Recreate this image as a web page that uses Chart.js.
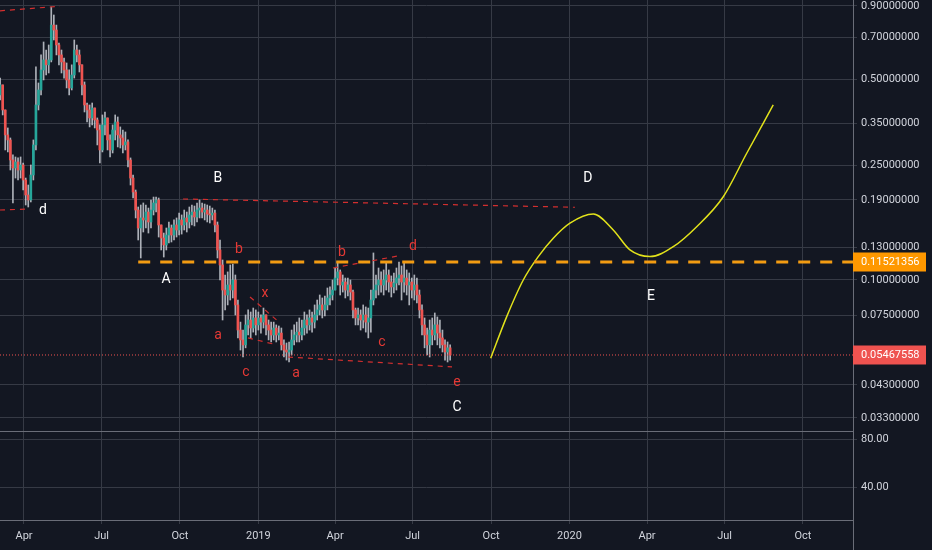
<!DOCTYPE html>
<html>
<head>
<meta charset="utf-8">
<script src="https://cdn.jsdelivr.net/npm/chart.js@4.4.1/dist/chart.umd.min.js"></script>
<style>
  html, body { margin: 0; padding: 0; background: #131722; }
  #wrap { position: relative; width: 932px; height: 550px; overflow: hidden; background: #131722; }
  #top { position: absolute; left: 0; top: 0; width: 932px; height: 433px; }
  #bot { position: absolute; left: 0; top: 432px; width: 932px; height: 118px; }
</style>
</head>
<body>
<div id="wrap">
  <div id="top"><canvas id="main-chart"></canvas></div>
  <div id="bot"><canvas id="osc-chart"></canvas></div>
</div>
<script>
//#region Datos
// days are counted from 1 Jan 2018, one candle every 3 days
var firstBarDay = 62;
var barStepDays = 3;
var firstOpen = 0.4406;

var closes = [
  0.4775, 0.3906, 0.3197, 0.3071, 0.2615, 0.2452, 0.2573, 0.2413, 0.2512, 0.2227,
  0.1974, 0.1897, 0.2318, 0.295, 0.4066, 0.4586, 0.5385, 0.5835, 0.561, 0.5835,
  0.772, 0.742, 0.658, 0.6075, 0.5742, 0.5385, 0.497, 0.466, 0.517, 0.632,
  0.6075, 0.561, 0.4775, 0.4066, 0.3906, 0.3663, 0.3968, 0.3605, 0.3327, 0.2834,
  0.3464, 0.3663, 0.3071, 0.2834, 0.3327, 0.3547, 0.3197, 0.312, 0.295, 0.3022,
  0.2615, 0.2262, 0.2022, 0.175, 0.1515, 0.1642, 0.1616, 0.1722, 0.159, 0.175,
  0.1852, 0.1897, 0.1552, 0.1398, 0.1322, 0.1432, 0.1515, 0.1432, 0.1552, 0.1491,
  0.1616, 0.1552, 0.1642, 0.159, 0.1682, 0.1722, 0.1655, 0.175, 0.1778, 0.1722,
  0.175, 0.1694, 0.1682, 0.1708, 0.1552, 0.127, 0.1126, 0.0921, 0.0885, 0.0959,
  0.0921, 0.0998, 0.0817, 0.0668, 0.0617, 0.0593, 0.0696, 0.0724, 0.0679, 0.0736,
  0.0696, 0.0736, 0.0712, 0.0754, 0.0696, 0.0668, 0.0642, 0.0679, 0.0642, 0.0652,
  0.0593, 0.0569, 0.056, 0.0569, 0.0617, 0.0642, 0.0657, 0.0642, 0.0679, 0.0724,
  0.0696, 0.0736, 0.0712, 0.0754, 0.0785, 0.0817, 0.0785, 0.0817, 0.0864, 0.0885,
  0.0921, 0.1014, 0.1065, 0.0959, 0.0982, 0.0921, 0.0959, 0.0906, 0.0785, 0.0736,
  0.0754, 0.0724, 0.0754, 0.0712, 0.0736, 0.085, 0.0921, 0.0959, 0.0998, 0.0959,
  0.0998, 0.1039, 0.0982, 0.0944, 0.0974, 0.1014, 0.1039, 0.0982, 0.1014, 0.0959,
  0.0982, 0.0921, 0.0959, 0.0885, 0.0785, 0.0696, 0.0642, 0.0593, 0.0668, 0.0642,
  0.0696, 0.0652, 0.0627, 0.0593, 0.056, 0.0579, 0.05467558
];
var highs = [
  0.505, 0.4586, 0.3906, 0.3381, 0.312, 0.2723, 0.2679, 0.2658, 0.2679, 0.2552,
  0.2262, 0.2139, 0.2512, 0.3071, 0.552, 0.4851, 0.6075, 0.674, 0.632, 0.658,
  0.8925, 0.837, 0.772, 0.6686, 0.632, 0.5929, 0.5695, 0.5385, 0.561, 0.685,
  0.658, 0.632, 0.561, 0.489, 0.413, 0.4066, 0.413, 0.3906, 0.3663, 0.3464,
  0.3753, 0.3844, 0.3605, 0.3197, 0.3464, 0.3753, 0.3693, 0.3409, 0.3327, 0.3274,
  0.3071, 0.2658, 0.2318, 0.2055, 0.1793, 0.1822, 0.1852, 0.1822, 0.1778, 0.1897,
  0.1942, 0.1942, 0.1927, 0.1552, 0.1455, 0.1515, 0.159, 0.1552, 0.1616, 0.1642,
  0.1708, 0.1682, 0.175, 0.1722, 0.1793, 0.1822, 0.1807, 0.1852, 0.1897, 0.1852,
  0.1836, 0.1822, 0.1807, 0.1778, 0.175, 0.159, 0.1376, 0.1172, 0.1039, 0.1065,
  0.1126, 0.1134, 0.1039, 0.085, 0.0712, 0.0668, 0.0754, 0.0785, 0.0772, 0.0797,
  0.0785, 0.0772, 0.0754, 0.0797, 0.0754, 0.0724, 0.0712, 0.0712, 0.0696, 0.069,
  0.0679, 0.0617, 0.0602, 0.0607, 0.0668, 0.0696, 0.0712, 0.0736, 0.0724, 0.0772,
  0.0754, 0.0785, 0.0772, 0.0817, 0.085, 0.0885, 0.0864, 0.0878, 0.0936, 0.0944,
  0.0998, 0.1099, 0.1144, 0.1082, 0.1039, 0.1014, 0.1014, 0.0998, 0.0921, 0.0797,
  0.0797, 0.0785, 0.0817, 0.0804, 0.0797, 0.0921, 0.124, 0.1039, 0.1099, 0.1065,
  0.1082, 0.1153, 0.1082, 0.1031, 0.1056, 0.1099, 0.1153, 0.1117, 0.1153, 0.1082,
  0.1056, 0.1014, 0.1039, 0.1014, 0.0921, 0.0817, 0.0736, 0.0679, 0.0724, 0.0736,
  0.0766, 0.0742, 0.0724, 0.0668, 0.0617, 0.0607, 0.0593
];
var lows = [
  0.4232, 0.3753, 0.2834, 0.2789, 0.2413, 0.1852, 0.2262, 0.2227, 0.2262, 0.2055,
  0.1822, 0.1793, 0.1867, 0.2227, 0.2834, 0.3906, 0.4406, 0.497, 0.517, 0.5256,
  0.5742, 0.685, 0.6075, 0.561, 0.5256, 0.5046, 0.466, 0.4406, 0.4586, 0.5046,
  0.5742, 0.5299, 0.4406, 0.3844, 0.3547, 0.3409, 0.3464, 0.3381, 0.295, 0.2552,
  0.2789, 0.3197, 0.2834, 0.2679, 0.2766, 0.3071, 0.2903, 0.2879, 0.2766, 0.2834,
  0.2472, 0.2139, 0.1927, 0.1642, 0.1376, 0.1191, 0.1467, 0.1515, 0.1455, 0.1515,
  0.1682, 0.1722, 0.1409, 0.127, 0.12, 0.127, 0.1343, 0.1354, 0.1376, 0.1409,
  0.1432, 0.1443, 0.1491, 0.1467, 0.1515, 0.1552, 0.154, 0.159, 0.1642, 0.1642,
  0.1616, 0.159, 0.1577, 0.1616, 0.1467, 0.1191, 0.0998, 0.0724, 0.0785, 0.0817,
  0.085, 0.0864, 0.0754, 0.0627, 0.0569, 0.0538, 0.0579, 0.0642, 0.0627, 0.0657,
  0.0642, 0.0668, 0.0652, 0.0679, 0.0642, 0.0617, 0.0607, 0.0617, 0.0607, 0.0617,
  0.0569, 0.0538, 0.0525, 0.0517, 0.0547, 0.0593, 0.0607, 0.0607, 0.0617, 0.0642,
  0.0652, 0.0668, 0.0657, 0.0679, 0.0724, 0.0754, 0.0736, 0.0748, 0.0785, 0.0817,
  0.085, 0.0921, 0.0959, 0.0885, 0.0906, 0.0864, 0.0878, 0.085, 0.0736, 0.0696,
  0.0696, 0.0668, 0.0679, 0.0657, 0.0627, 0.0657, 0.0817, 0.0864, 0.0885, 0.0906,
  0.0885, 0.0921, 0.0906, 0.0871, 0.0899, 0.0921, 0.0959, 0.085, 0.0906, 0.0885,
  0.0817, 0.0864, 0.085, 0.083, 0.0736, 0.0642, 0.0579, 0.0547, 0.0538, 0.0593,
  0.0617, 0.0593, 0.0579, 0.056, 0.0525, 0.0517, 0.0525
];

var priceTicks = [0.9, 0.7, 0.5, 0.35, 0.25, 0.19, 0.13, 0.1, 0.075, 0.043, 0.033];
var oscTicks = [80, 40];
var monthTickDays = [90, 181, 273, 365, 455, 546, 638, 730, 821, 912, 1004];
var monthTickLabels = ['Apr', 'Jul', 'Oct', '2019', 'Apr', 'Jul', 'Oct', '2020', 'Apr', 'Jul', 'Oct'];

var lastPrice = 0.05467558;
var levelPrice = 0.11521356;
var levelStartDay = 224;

// projected path (yellow)
var projDays = [637.6, 656.4, 675.8, 693.4, 711.0, 730.6, 758.0, 781.4, 801.0, 824.5, 851.8, 879.3, 910.5, 938.0, 969.1];
var projPrices = [0.0533, 0.0744, 0.0998, 0.1204, 0.1395, 0.1574, 0.1694, 0.1491, 0.127, 0.1204, 0.1304, 0.1531, 0.1947, 0.276, 0.4066];

// red dashed trend lines: [day1, price1, day2, price2]
var trendLines = [
  [61.8, 0.8655, 132.2, 0.898],
  [61.8, 0.175, 94.7, 0.1764],
  [276.6, 0.1912, 736.5, 0.1789],
  [355.2, 0.0871, 390.4, 0.0707],
  [352.8, 0.0627, 386.8, 0.0593],
  [399.7, 0.0538, 592.2, 0.0497],
  [452.5, 0.1099, 528.8, 0.121]
];

var waveText = ['d', 'B', 'A', 'C', 'D', 'E', 'b', 'x', 'a', 'c', 'a', 'b', 'c', 'd', 'e'];
var waveDays = [112.3, 317.6, 256.6, 598.0, 751.7, 825.6, 342.3, 372.8, 317.6, 350.5, 409.1, 463.1, 510.0, 546.4, 598.0];
var wavePrices = [0.175, 0.2245, 0.1006, 0.036, 0.2245, 0.0871, 0.127, 0.0899, 0.0637, 0.0477, 0.0473, 0.124, 0.0602, 0.1301, 0.0437];
var waveIsMain = [true, true, true, true, true, true, false, false, false, false, false, false, false, false, false];
//#endregion

//#region Grafico
var xMin = 61.84, xMax = 1062.7;
var yMin = 0.02971, yMax = 0.944;
var gridColor = '#363a45';
var borderColor = '#6a6d78';
var textColor = '#d1d4dc';
Chart.defaults.font.family = 'Roboto';

var wickData = [], bodyData = [], bodyColors = [];
var prevClose = firstOpen;
for (var i = 0; i < closes.length; i++) {
    var day = firstBarDay + i * barStepDays;
    var o = prevClose, c = closes[i];
    wickData.push({ x: day, y: [Math.min(lows[i], o, c), Math.max(highs[i], o, c)] });
    bodyData.push({ x: day, y: [o, c] });
    bodyColors.push(c >= o ? '#26a69a' : '#ef5350');
    prevClose = c;
}

var datasets = [];
datasets.push({
    type: 'bar', data: wickData, backgroundColor: 'rgba(200,203,210,0.85)',
    barThickness: 1, grouped: false, borderWidth: 0, order: 3
});
datasets.push({
    type: 'bar', data: bodyData, backgroundColor: bodyColors,
    barThickness: 2, grouped: false, borderWidth: 0, minBarLength: 1, order: 2
});
trendLines.forEach(function (seg) {
    datasets.push({
        type: 'line', data: [{ x: seg[0], y: seg[1] }, { x: seg[2], y: seg[3] }],
        borderColor: '#d32f2f', borderWidth: 1.2, borderDash: [5, 5],
        pointRadius: 0, fill: false, order: 1
    });
});
datasets.push({
    type: 'line', data: [{ x: xMin, y: lastPrice }, { x: xMax, y: lastPrice }],
    borderColor: '#ef5350', borderWidth: 1, borderDash: [1, 2], pointRadius: 0, fill: false, order: 1
});
datasets.push({
    type: 'line', data: [{ x: levelStartDay, y: levelPrice }, { x: xMax, y: levelPrice }],
    borderColor: '#f39c12', borderWidth: 3, borderDash: [12, 10], pointRadius: 0, fill: false, order: 0
});
datasets.push({
    type: 'line', data: projDays.map(function (d, k) { return { x: d, y: projPrices[k] }; }),
    borderColor: '#e2e21b', borderWidth: 1.5, cubicInterpolationMode: 'monotone',
    pointRadius: 0, fill: false, order: 0
});

function drawTag(ctx, ys, price, color) {
    var yy = Math.round(ys.getPixelForValue(price));
    ctx.fillStyle = color;
    ctx.fillRect(ys.left, yy - 9.5, 73, 19);
    ctx.fillStyle = '#ffffff';
    ctx.font = '11px Roboto';
    ctx.textAlign = 'left';
    ctx.textBaseline = 'middle';
    ctx.fillText(price.toFixed(8), ys.left + 8, yy + 0.5);
}

var overlayPlugin = {
    id: 'overlay',
    afterDraw: function (chart) {
        var ctx = chart.ctx, xs = chart.scales.x, ys = chart.scales.y;
        ctx.save();
        ctx.font = '14px Roboto';
        ctx.textAlign = 'center';
        ctx.textBaseline = 'middle';
        for (var k = 0; k < waveText.length; k++) {
            ctx.fillStyle = waveIsMain[k] ? '#ffffff' : '#e53935';
            ctx.fillText(waveText[k], xs.getPixelForValue(waveDays[k]), ys.getPixelForValue(wavePrices[k]));
        }
        drawTag(ctx, ys, levelPrice, '#ff9800');
        drawTag(ctx, ys, lastPrice, '#ef5350');
        ctx.restore();
    }
};

var mainChart = new Chart(document.getElementById('main-chart'), {
    type: 'bar',
    data: { datasets: datasets },
    options: {
        responsive: true, maintainAspectRatio: false, animation: false, events: [],
        layout: { padding: { left: 0, right: 0, top: 0, bottom: 2 } },
        plugins: { legend: { display: false }, tooltip: { enabled: false } },
        scales: {
            x: {
                type: 'linear', min: xMin, max: xMax, offset: false,
                grid: { color: gridColor, drawTicks: false, offset: false },
                border: { display: true, color: borderColor },
                ticks: { display: false },
                afterBuildTicks: function (s) { s.ticks = monthTickDays.map(function (v) { return { value: v }; }); },
                afterFit: function (s) { s.height = 0; s.paddingLeft = 0; s.paddingRight = 0; }
            },
            y: {
                type: 'logarithmic', position: 'right', min: yMin, max: yMax,
                grid: { color: gridColor, tickLength: 4 },
                border: { display: true, color: borderColor },
                ticks: {
                    color: textColor, font: { size: 11 }, padding: 4, autoSkip: false,
                    callback: function (v) { return Number(v).toFixed(8); }
                },
                afterBuildTicks: function (s) { s.ticks = priceTicks.map(function (v) { return { value: v }; }); },
                afterFit: function (s) { s.width = 79; s.paddingTop = 0; s.paddingBottom = 0; }
            }
        }
    },
    plugins: [overlayPlugin]
});

var axisLinePlugin = {
    id: 'axisLine',
    afterDraw: function (chart) {
        var ctx = chart.ctx, ys = chart.scales.y;
        ctx.save();
        ctx.strokeStyle = borderColor;
        ctx.lineWidth = 1;
        ctx.beginPath();
        ctx.moveTo(Math.round(ys.left) + 0.5, 0);
        ctx.lineTo(Math.round(ys.left) + 0.5, chart.height);
        ctx.stroke();
        ctx.restore();
    }
};

var oscChart = new Chart(document.getElementById('osc-chart'), {
    type: 'line',
    data: { datasets: [] },
    options: {
        responsive: true, maintainAspectRatio: false, animation: false, events: [],
        layout: { padding: 0 },
        plugins: { legend: { display: false }, tooltip: { enabled: false } },
        scales: {
            x: {
                type: 'linear', min: xMin, max: xMax, offset: false,
                grid: { color: gridColor, tickLength: 4, offset: false },
                border: { display: true, color: borderColor },
                ticks: {
                    color: textColor, font: { size: 11 }, padding: 6, autoSkip: false, maxRotation: 0,
                    callback: function (v) { var k = monthTickDays.indexOf(v); return k >= 0 ? monthTickLabels[k] : ''; }
                },
                afterBuildTicks: function (s) { s.ticks = monthTickDays.map(function (v) { return { value: v }; }); },
                afterFit: function (s) { s.height = 30; s.paddingLeft = 0; s.paddingRight = 0; }
            },
            y: {
                type: 'linear', position: 'right', min: 13.47, max: 85.75,
                grid: { color: gridColor, tickLength: 4 },
                border: { display: true, color: borderColor },
                ticks: {
                    color: textColor, font: { size: 11 }, padding: 4, autoSkip: false,
                    callback: function (v) { return Number(v).toFixed(2); }
                },
                afterBuildTicks: function (s) { s.ticks = oscTicks.map(function (v) { return { value: v }; }); },
                afterFit: function (s) { s.width = 79; s.paddingTop = 0; s.paddingBottom = 0; }
            }
        }
    },
    plugins: [axisLinePlugin]
});
//#endregion
</script>
</body>
</html>
